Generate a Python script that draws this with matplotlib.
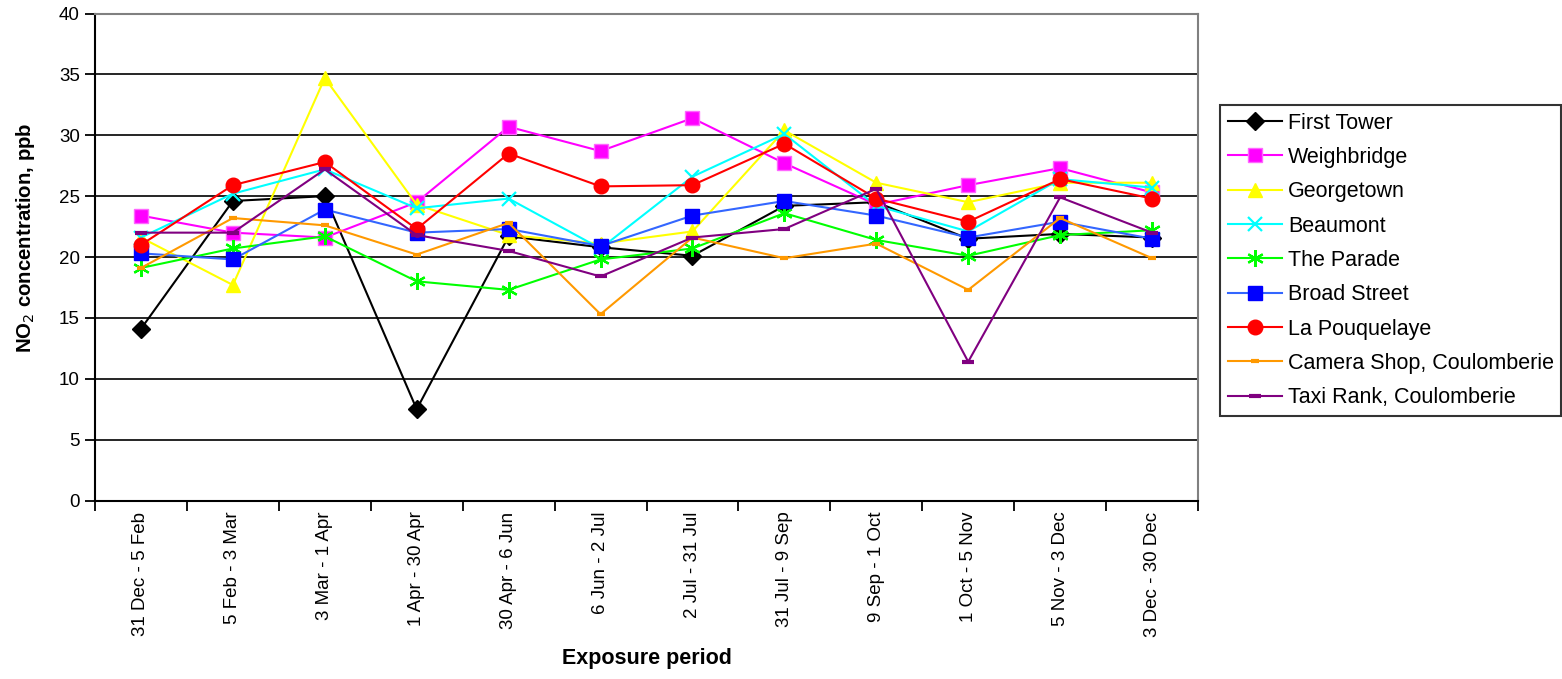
import matplotlib
matplotlib.use("Agg")
import matplotlib.pyplot as plt
import numpy as np

plt.rcParams['font.family'] = ['Liberation Sans', 'DejaVu Sans']

periods = ["31 Dec - 5 Feb", "5 Feb - 3 Mar", "3 Mar - 1 Apr", "1 Apr - 30 Apr",
           "30 Apr - 6 Jun", "6 Jun - 2 Jul", "2 Jul - 31 Jul", "31 Jul - 9 Sep",
           "9 Sep - 1 Oct", "1 Oct - 5 Nov", "5 Nov - 3 Dec", "3 Dec - 30 Dec"]

first_tower = [14.1, 24.6, 25.0, 7.5, 21.7, 20.8, 20.1, 24.2, 24.5, 21.5, 21.9, 21.6]
weighbridge = [23.4, 22.0, 21.6, 24.5, 30.7, 28.7, 31.4, 27.7, 24.3, 25.9, 27.3, 25.3]
georgetown = [21.6, 17.7, 34.7, 24.3, 21.8, 21.1, 22.1, 30.4, 26.1, 24.5, 26.1, 26.1]
beaumont = [21.6, 25.2, 27.2, 24.0, 24.8, 20.7, 26.6, 30.1, 24.2, 22.1, 26.4, 25.7]
the_parade = [19.1, 20.7, 21.7, 18.0, 17.3, 19.8, 20.7, 23.6, 21.4, 20.1, 21.8, 22.2]
broad_street = [20.3, 19.8, 23.9, 22.0, 22.3, 20.9, 23.4, 24.6, 23.4, 21.6, 22.9, 21.5]
la_pouquelaye = [21.0, 25.9, 27.8, 22.3, 28.5, 25.8, 25.9, 29.3, 24.8, 22.9, 26.4, 24.8]
camera_shop = [19.1, 23.2, 22.6, 20.2, 22.8, 15.3, 21.6, 19.9, 21.1, 17.3, 23.2, 19.9]
taxi_rank = [22.0, 22.0, 27.2, 21.8, 20.5, 18.4, 21.6, 22.3, 25.6, 11.4, 24.9, 22.0]

site_names = ["First Tower", "Weighbridge", "Georgetown", "Beaumont", "The Parade",
              "Broad Street", "La Pouquelaye", "Camera Shop, Coulomberie",
              "Taxi Rank, Coulomberie"]

W, H, DPI = 1562, 679, 100
fig = plt.figure(figsize=(W / DPI, H / DPI), dpi=DPI)
ax = fig.add_axes([95 / W, 1 - 500.5 / H, (1198 - 95) / W, (500.5 - 13.5) / H])

x = np.arange(len(periods))

styles = [
    dict(color="#000000", marker="D", ms=9.5, mfc="#000000", mec="#000000"),
    dict(color="#FF00FF", marker="s", ms=9.5, mfc="#FF00FF", mec="#FF66FF"),
    dict(color="#FFFF00", marker="^", ms=10.5, mfc="#FFFF00", mec="#FFFF00"),
    dict(color="#00FFFF", marker="x", ms=10, mec="#00FFFF", mew=1.6),
    dict(color="#00FF00", marker=(6, 2, 0), ms=12, mec="#00FF00", mew=1.6),
    dict(color="#3366FF", marker="s", ms=9.5, mfc="#0000FF", mec="#0000FF"),
    dict(color="#FF0000", marker="o", ms=10.5, mfc="#FF0000", mec="#FF0000"),
    dict(color="#FF9900", marker="_", ms=6, mec="#FF9900", mew=3),
    dict(color="#800080", marker="_", ms=8, mec="#800080", mew=3),
]
series = [first_tower, weighbridge, georgetown, beaumont, the_parade,
          broad_street, la_pouquelaye, camera_shop, taxi_rank]

for name, vals, st in zip(site_names, series, styles):
    ax.plot(x, vals, label=name, lw=1.5, zorder=3, **st)

ax.set_xlim(-0.5, len(periods) - 0.5)
ax.set_ylim(0, 40)
ax.set_yticks(np.arange(0, 41, 5))
ax.grid(axis="y", color="black", lw=1.2, zorder=1)
ax.set_axisbelow(True)

# category boundaries carry the tick marks, labels sit at the centres
ax.set_xticks(np.arange(-0.5, len(periods), 1.0))
ax.set_xticklabels([])
ax.set_xticks(x, minor=True)
ax.set_xticklabels(periods, minor=True, rotation=90, fontsize=13.5)
ax.tick_params(axis="x", which="minor", length=0, pad=8)
ax.tick_params(axis="x", which="major", direction="out", length=7, width=1.3, color="black")
ax.tick_params(axis="y", direction="out", length=7, width=1.3, labelsize=13.5, pad=4)

for side in ("left", "bottom"):
    ax.spines[side].set_color("black")
    ax.spines[side].set_linewidth(1.5)
for side in ("top", "right"):
    ax.spines[side].set_color("#808080")
    ax.spines[side].set_linewidth(1.5)

ax.set_xlabel("Exposure period", fontsize=15.5, fontweight="bold", labelpad=8)
ax.set_ylabel("NO$_2$ concentration, ppb", fontsize=14.7, fontweight="bold")
ax.yaxis.set_label_coords(-58 / (1198 - 95), (500.5 - 238) / (500.5 - 13.5))

leg = fig.legend(loc="upper left", bbox_to_anchor=(1220 / W, 1 - 105 / H),
                 fontsize=15.5, frameon=True, fancybox=False, edgecolor="black",
                 handlelength=2.55, handletextpad=0.25, labelspacing=0.62,
                 borderpad=0.35, borderaxespad=0)
leg.get_frame().set_linewidth(1.5)

fig.savefig("out.png", dpi=DPI)
